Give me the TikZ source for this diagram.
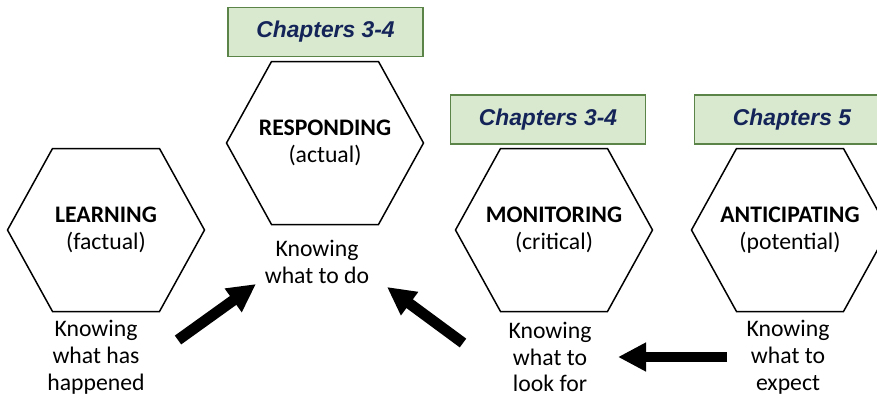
\documentclass[tikz,border=0pt]{standalone}
\usepackage{fontspec}
\setmainfont{Carlito}
\newfontfamily\chapfont{Liberation Sans}
\usetikzlibrary{arrows.meta}
\definecolor{chapfill}{RGB}{216,233,208}
\definecolor{chapline}{RGB}{90,132,72}
\definecolor{chapnavy}{RGB}{20,36,88}
\def\myhexw{98.5}
\def\myhext{53.5}
\def\myhexh{81.5}
\newcommand{\drawhex}[1]{%
  \draw[my hex] (#1) +(-\myhexw,0) -- +(-\myhext,-\myhexh) -- +(\myhext,-\myhexh)
    -- +(\myhexw,0) -- +(\myhext,\myhexh) -- +(-\myhext,\myhexh) -- cycle;}
\tikzset{
>={Triangle[length=16pt,width=15.5pt]}, % fat arrow heads
my text/.style={align=center,inner sep=0pt,font=\fontsize{13.5pt}{15.3pt}\selectfont},
my hex/.style={draw,line width=0.85pt},
my chapter/.style={draw=chapline,fill=chapfill,line width=1.1pt,
  minimum width=3.9cm,minimum height=0.98cm,inner sep=0pt,
  text=chapnavy,font=\chapfont\bfseries\itshape\fontsize{13pt}{15pt}\selectfont},
my arrow/.style={->,line width=6.2pt}
}
\begin{document}
\begin{tikzpicture}[x=0.02cm,y=-0.02cm]
\path[use as bounding box,clip] (0,0) rectangle (877,400);
% hexagons
\node[my text] (lrn) at (106,230) {\textbf{LEARNING}\\(factual)};
\node[my text] (rsp) at (325,143) {\textbf{RESPONDING}\\(actual)};
\node[my text] (mon) at (554,230) {\textbf{MONITORING}\\(critical)};
\node[my text] (ant) at (790,230) {\textbf{ANTICIPATING}\\(potential)};
\drawhex{lrn} \drawhex{rsp} \drawhex{mon} \drawhex{ant}
% chapters
\node[my chapter] (chR) at (325.5,32)  {Chapters 3-4};
\node[my chapter] (chM) at (548,119.5) {Chapters 3-4};
\node[my chapter] (chA) at (792,119.5) {Chapters 5};
% knowing
\node[my text] (kL) at (96,357)  {Knowing\\what has\\happened};
\node[my text] (kR) at (317,262) {Knowing\\what to do};
\node[my text] (kM) at (550,357) {Knowing\\what to\\look for};
\node[my text] (kA) at (788,357) {Knowing\\what to\\expect};
% arrows
\coordinate (a1s) at (178,340); \coordinate (a1e) at (256,284);
\coordinate (a2s) at (463,343); \coordinate (a2e) at (387,287);
\coordinate (a3s) at (727,357); \coordinate (a3e) at (618,357);
\draw[my arrow] (a1s) -- (a1e);
\draw[my arrow] (a2s) -- (a2e);
\draw[my arrow] (a3s) -- (a3e);
\end{tikzpicture}
\end{document}
